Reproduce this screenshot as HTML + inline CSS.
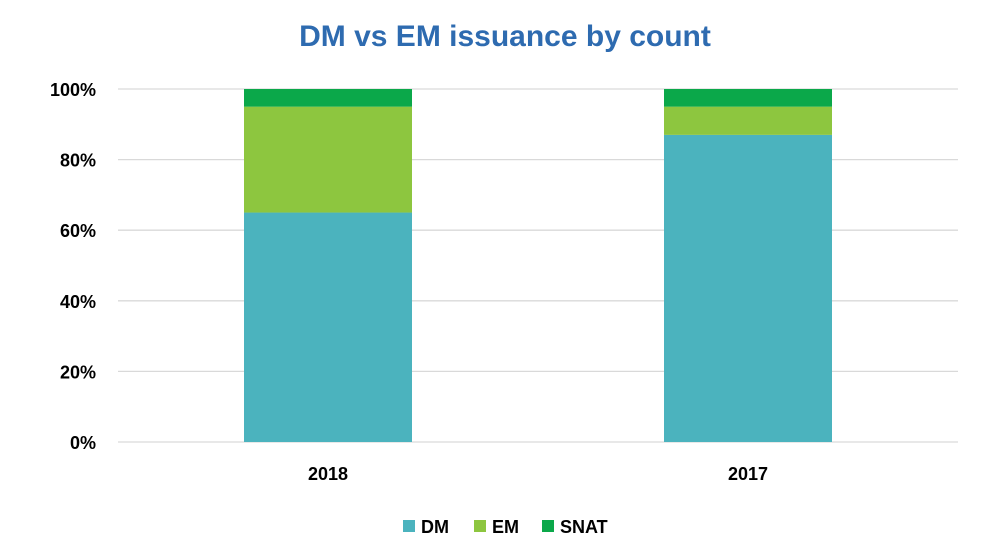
<!DOCTYPE html>
<html><head><meta charset="utf-8"><style>
body{margin:0;background:#fff;}
svg{display:block;font-family:"Liberation Sans",Arial,sans-serif;}
</style></head><body>
<svg id="chart" width="998" height="540">
<text x="505" y="46" text-anchor="middle" font-size="30" font-weight="bold" fill="#2E6BB0">DM vs EM issuance by count</text>
<g id="grid"></g><g id="bars"></g><g id="xlabels"></g>
<g>
<rect x="403" y="520" width="12" height="12" fill="#4BB3BE"/>
<text x="421" y="533" font-size="18" font-weight="bold" fill="#000">DM</text>
<rect x="474" y="520" width="12" height="12" fill="#8DC63F"/>
<text x="492" y="533" font-size="18" font-weight="bold" fill="#000">EM</text>
<rect x="542" y="520" width="12" height="12" fill="#0BA84A"/>
<text x="560" y="533" font-size="18" font-weight="bold" fill="#000">SNAT</text>
</g>
</svg>
<script>
const categories=["2018","2017"];
const dm=[65,87];
const em=[30,8];
const snat=[5,5];
const ticks=[0,20,40,60,80,100];
const tickLabels=["0%","20%","40%","60%","80%","100%"];
const NS="http://www.w3.org/2000/svg";
const x0=118,x1=958,y0=442,y100=89;
const y=v=>y0-(y0-y100)*v/100;
const band=(x1-x0)/categories.length;
const cx=i=>x0+band*(i+0.5);
const bw=band*0.4;
function mk(tag,attrs,parent){const e=document.createElementNS(NS,tag);for(const k in attrs)e.setAttribute(k,attrs[k]);parent.appendChild(e);return e;}
const grid=document.getElementById('grid');
ticks.forEach((t,i)=>{
 const l=mk('line',{x1:x0,x2:x1,y1:y(t),y2:y(t),stroke:'#D9D9D9','stroke-width':1.3},grid);
 
 
 const tx=mk('text',{x:96,y:y(t)+7,'text-anchor':'end','font-size':18,'font-weight':'bold',fill:'#000'},grid);
 tx.textContent=tickLabels[i];
 
 
});
const bars=document.getElementById('bars');
const series=[["dm",dm,"#4BB3BE"],["em",em,"#8DC63F"],["snat",snat,"#0BA84A"]];
categories.forEach((c,i)=>{
 let base=0;
 series.forEach(s=>{
  const v=s[1][i];
  const r=mk('rect',{x:cx(i)-bw/2,y:y(base+v),width:bw,height:y(base)-y(base+v),fill:s[2]},bars);
  
  
  base+=v;
 });
 const t=mk('text',{x:cx(i),y:480,'text-anchor':'middle','font-size':18,'font-weight':'bold',fill:'#000'},document.getElementById('xlabels'));
 t.textContent=c;
 
 
});
</script>
</body></html>
